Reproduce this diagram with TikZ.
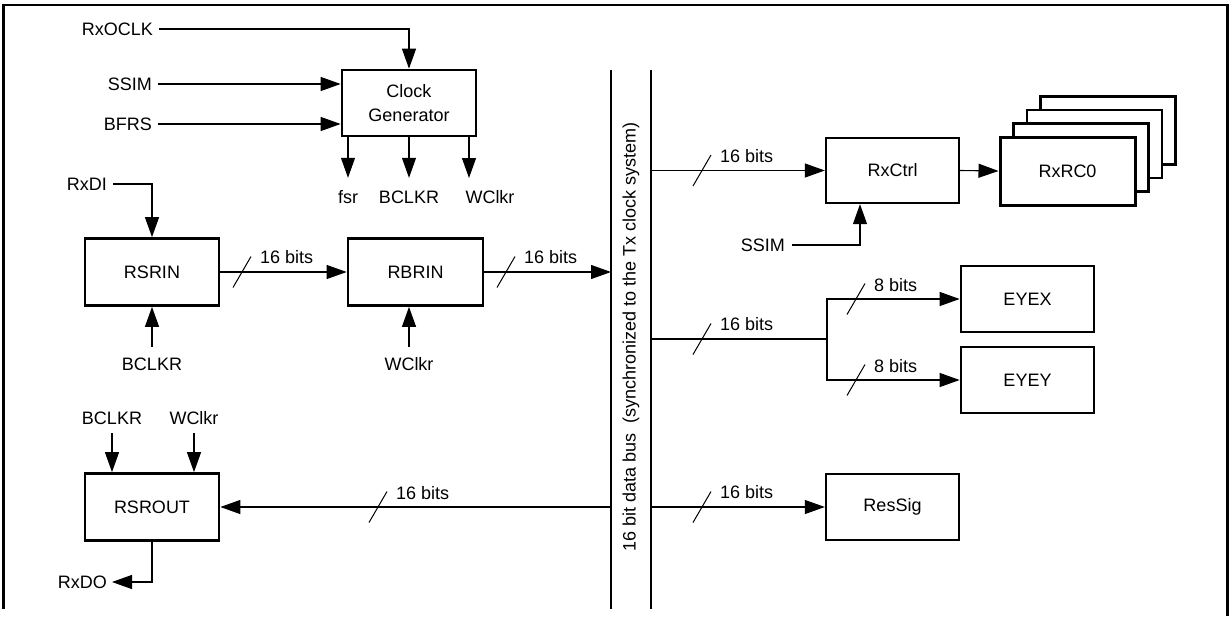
\documentclass[tikz,border=0pt]{standalone}
\usepackage{fontspec}
\setmainfont{Liberation Sans}
\usetikzlibrary{arrows.meta}
\begin{document}
\begin{tikzpicture}[x=1pt,y=-1pt,
  every node/.style={font=\fontsize{18}{24}\selectfont},
  box/.style={draw, line width=2.7pt, minimum width=134pt, minimum height=67pt, inner sep=0pt, align=center},
  lbl/.style={inner sep=2pt, text height=13pt, text depth=0pt},
  conn/.style={line width=1.1pt},
  arr/.style={conn, -{Triangle[length=20pt,width=14pt]}},
  slashline/.style={line width=1pt},
  busline/.style={line width=1.6pt},
  busslash/.pic={\draw[slashline] (-9,15.5) -- (9,-15.5);}
]
\useasboundingbox (0,0) rectangle (1229,616);
% frame
\draw[line width=2.8pt] (3.5,609) -- (3.5,5) -- (1227.5,5) -- (1227.5,616);

% blocks
\node[box, minimum height=66pt] (clk) at (409,103) {Clock\\Generator};
\node[box] (rsrin) at (152,272) {RSRIN};
\node[box, minimum width=135pt] (rbrin) at (415.5,272) {RBRIN};
\node[box] (rsrout) at (152,507) {RSROUT};
\node[box, minimum width=133pt, minimum height=65pt, line width=2.3pt] (rxctrl) at (892.5,170.5) {RxCtrl};
\coordinate (rcc) at (1067.5,171);
\node[box, fill=white, minimum width=135pt, minimum height=68pt] (rc3) at ([shift={(40.5,-40.5)}]rcc) {};
\node[box, fill=white, minimum width=135pt, minimum height=68pt] (rc2) at ([shift={(27,-27)}]rcc) {};
\node[box, fill=white, minimum width=135pt, minimum height=68pt] (rc1) at ([shift={(13.5,-13.5)}]rcc) {};
\node[box, fill=white, minimum width=135pt, minimum height=68pt, line width=3pt] (rxrc0) at (rcc) {RxRC0};
\node[box, minimum width=133pt, minimum height=66pt] (eyex) at (1027.5,299) {EYEX};
\node[box, minimum width=133pt, minimum height=66pt] (eyey) at (1027.5,380) {EYEY};
\node[box, minimum width=133pt, minimum height=66pt, line width=2.3pt] (ressig) at (892.5,507) {ResSig};

% bus
\coordinate (busLtop) at (611,70);
\coordinate (busLbot) at (611,609);
\coordinate (busRtop) at (651,70);
\coordinate (busRbot) at (651,609);
\draw[busline] (busLtop) -- (busLbot);
\draw[busline] (busRtop) -- (busRbot);
\node[rotate=90] (buslbl) at (631,337) {16 bit data bus\ \ (synchronized to the Tx clock system)};

% labels
\node[lbl, anchor=east] (rxoclk) at (155,29) {RxOCLK};
\node[lbl, anchor=east] (ssimA) at (154,84) {SSIM};
\node[lbl, anchor=east] (bfrs) at (154,124) {BFRS};
\node[lbl] (fsr) at (348,197) {fsr};
\node[lbl] (bclkrA) at (409,197) {BCLKR};
\node[lbl] (wclkrA) at (490,197) {WClkr};
\coordinate (wA) at (469,178);
\node[lbl, anchor=east] (rxdi) at (109,184) {RxDI};
\node[lbl] (bclkrB) at (152,364) {BCLKR};
\node[lbl] (wclkrB) at (409,364) {WClkr};
\node[lbl] (bclkrC) at (112,418) {BCLKR};
\node[lbl] (wclkrC) at (194,418) {WClkr};
\node[lbl, anchor=east] (rxdo) at (109,582) {RxDO};
\node[lbl, anchor=east] (ssimB) at (787,245) {SSIM};

% clock generator connections
\draw[arr, shorten <=4pt] (rxoclk.east) -| (clk.north);
\draw[arr, shorten <=4pt] (ssimA.east) -- (ssimA.east -| clk.west);
\draw[arr, shorten <=4pt] (bfrs.east) -- (bfrs.east -| clk.west);
\draw[arr, shorten >=10.5pt] (clk.south -| fsr.north) -- (fsr.north);
\draw[arr, shorten >=10.5pt] (clk.south -| bclkrA.north) -- (bclkrA.north);
\draw[arr] (clk.south -| wA) -- (wA);

% input path
\draw[arr, shorten <=4pt] (rxdi.east) -| (rsrin.north);
\draw[arr, shorten <=8.5pt] (bclkrB.north) -- (rsrin.south);
\draw[arr, shorten <=8.5pt] (wclkrB.north) -- (wclkrB.north |- rbrin.south);
\draw[arr] (rsrin.east) -- (rbrin.west);
\draw[arr] (rbrin.east) -- (rbrin.east -| busLtop);

% output path
\draw[arr, shorten <=6.5pt] (bclkrC.south) -- (bclkrC.south |- rsrout.north);
\draw[arr, shorten <=6.5pt] (wclkrC.south) -- (wclkrC.south |- rsrout.north);
\draw[arr, shorten >=3pt] (rsrout.south) |- (rxdo.east);
\draw[arr] (busLtop |- rsrout.east) -- (rsrout.east);

% right side
\draw[arr] (busRtop |- rxctrl.west) -- (rxctrl.west);
\draw[arr] (rxctrl.east) -- (rxrc0.west);
\draw[arr, shorten <=5pt] (ssimB.east) -| ([xshift=-32.5pt]rxctrl.south);
\coordinate (split) at (827,339);
\draw[conn] (busRtop |- split) -- (split);
\draw[arr] (split) |- (eyex.west);
\draw[arr] (split) |- (eyey.west);
\draw[arr] (busRtop |- ressig.west) -- (ressig.west);

% bus width marks
\coordinate (s1) at (242,272);
\coordinate (s2) at (506,272);
\coordinate (s3) at (702,170.5);
\coordinate (s4) at (702,339);
\coordinate (s5) at (856,299);
\coordinate (s6) at (856,380);
\coordinate (s7) at (702,507);
\coordinate (s8) at (378,507);
\foreach \s in {s1,s2,s3,s4,s5,s6,s7,s8} {\pic at (\s) {busslash};}
\node[lbl, anchor=west] (b1) at ([shift={(16,-15)}]s1) {16 bits};
\node[lbl, anchor=west] (b2) at ([shift={(16,-15)}]s2) {16 bits};
\node[lbl, anchor=west] (b3) at ([shift={(16,-15)}]s3) {16 bits};
\node[lbl, anchor=west] (b4) at ([shift={(16,-15)}]s4) {16 bits};
\node[lbl, anchor=west] (b5) at ([shift={(16,-14)}]s5) {8 bits};
\node[lbl, anchor=west] (b6) at ([shift={(16,-14)}]s6) {8 bits};
\node[lbl, anchor=west] (b7) at ([shift={(16,-15)}]s7) {16 bits};
\node[lbl, anchor=west] (b8) at ([shift={(16,-14)}]s8) {16 bits};
\end{tikzpicture}
\end{document}
